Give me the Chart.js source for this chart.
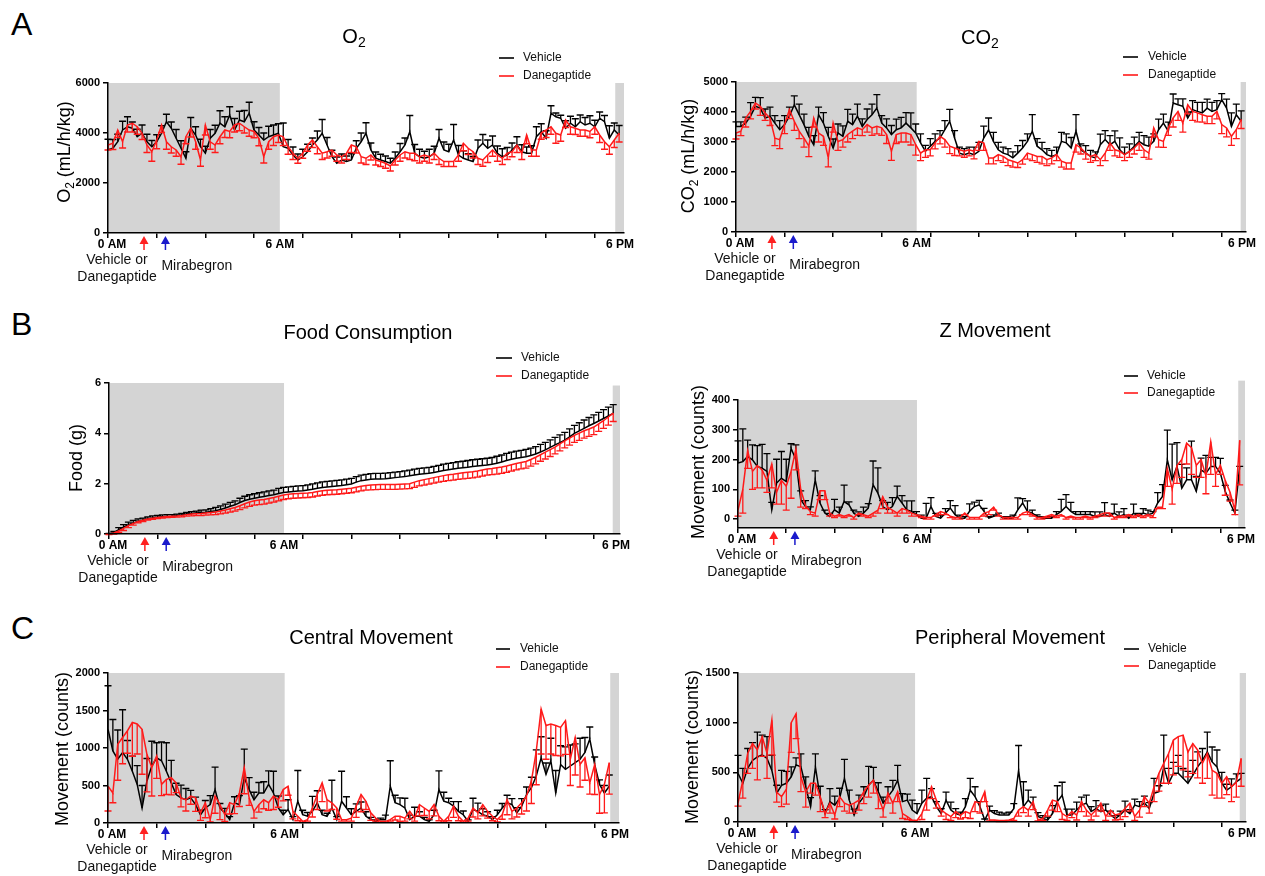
<!DOCTYPE html>
<html>
<head>
<meta charset="utf-8">
<script src="https://cdn.jsdelivr.net/npm/chart.js@4.4.1/dist/chart.umd.min.js"></script>
<style>
  html, body { margin: 0; padding: 0; background: #fff; overflow: hidden; }
  body { width: 1265px; height: 876px; position: relative; font-family: Arial, "Liberation Sans", sans-serif; }
  canvas { position: absolute; }
  .letter { position: absolute; font-size: 32px; line-height: 32px; color: #000; }
</style>
</head>
<body>
<div class="letter" style="left:11px;top:8px">A</div>
<div class="letter" style="left:11px;top:308px">B</div>
<div class="letter" style="left:11px;top:612px">C</div>

<canvas id="cO2"></canvas>
<canvas id="cCO2"></canvas>
<canvas id="cFood"></canvas>
<canvas id="cZ"></canvas>
<canvas id="cCentral"></canvas>
<canvas id="cPeriph"></canvas>

<script>
// ── Data (one point every ~10 min, index 0 = 0 AM) ─────────────────────
const xTicks     = [0, 10, 20, 30, 40, 50, 60, 70, 80, 90, 100];
const timeLabels = ['0 AM', '6 AM', '6 PM'];
const seriesNames = ['Vehicle', 'Danegaptide'];

const o2Vehicle = [
  3330,3390,3650,4120,4250,4190, 3850,3990,3650,3450,3650,3990, 4450,4190,3790,3390,2990,4190,
  3920,3450,3190,3790,3990,4390, 4250,4720,4120,4520,4450,4790, 4120,3920,3720,3850,3920,3990,
  3450,3390,3120,2920,3050,3250, 3520,3720,3990,3520,3050,2790, 2920,2860,2920,3390,3650,3990,
  3320,2990,2920,2860,2790,2990, 3250,3520,4050,3190,3050,2990, 3050,3190,3790,3320,3250,3720,
  3120,2990,2920,2860,3390,3590, 3390,3520,3190,3050,3120,3320, 3520,3250,3190,3190,3850,4050,
  3790,4790,4650,4590,4190,4390, 4250,4450,4320,4390,4250,4590, 4450,3790,4120,3920];
const o2VehicleSem = [
  420,350,300,350,400,250, 300,330,300,250,280,300, 300,250,350,300,260,430,
  330,300,280,350,320,500, 400,330,460,350,450,440, 330,300,280,420,400,380,
  950,350,320,240,300,300, 280,360,550,300,260,250, 240,220,250,300,350,420,
  280,250,230,220,200,250, 330,280,650,350,300,280, 300,280,350,320,300,620,
  380,300,250,200,330,350, 330,360,290,320,300,280, 330,280,250,300,400,320,
  300,300,150,120,300,280, 320,270,300,300,260,250, 250,500,280,380];
const o2Dane = [
  3520,3590,4120,3650,4320,4390, 4250,3990,3520,3250,3720,4320, 3650,3450,3320,3050,3850,4190,
  3650,2920,4320,3650,3520,3850, 4120,4060,4320,4390,4250,4120, 4060,3790,3050,3650,3850,3920,
  3850,3450,3190,2990,3190,3520, 3720,3450,3190,3250,3320,3120, 3050,3190,3520,3450,3050,2990,
  3120,2920,2860,2790,2680,2920, 3120,3250,3190,3190,3050,3120, 3050,3190,2990,2860,2860,2860,
  3120,3590,3390,3250,2990,2920, 3120,3320,3120,2990,3190,3250, 3520,3190,3920,3320,3320,4000,
  4120,4250,3990,3920,4520,4250, 4190,4120,4120,4060,4250,3920, 3650,3450,3720,3990];
const o2DaneSem = [
  200,250,300,250,280,350, 300,250,300,380,350,300, 300,250,250,300,280,350,
  300,250,400,300,300,280, 300,250,280,300,250,250, 250,300,250,300,350,300,
  350,300,250,200,200,250, 300,280,250,250,250,250, 250,250,300,250,250,250,
  200,200,200,200,200,200, 250,250,250,300,250,250, 250,250,250,200,200,200,
  250,300,250,250,250,250, 300,250,250,250,250,200, 300,250,350,250,250,250,
  300,300,400,250,300,300, 250,250,250,250,300,300, 300,300,300,350];

const co2Vehicle = [
  3520,3520,3630,3860,4190,4130, 3800,3860,3630,3410,3580,3860, 4240,3910,3580,3190,2910,3910,
  3630,3190,2800,3300,3190,3690, 3580,3860,3520,3750,3910,4130, 3630,3470,3250,3410,3470,3630,
  3470,3300,2970,2690,2860,3020, 3130,3410,3690,3130,2630,2580, 2630,2580,2690,3130,3400,3020,
  2740,2630,2580,2470,2630,2800, 3020,3360,2860,2740,2580,2520, 2580,3020,2970,2800,3360,2740,
  2630,2520,2470,2910,3080,2910, 3020,2740,2580,2690,2860,3020, 2910,2860,3020,3410,3630,3360,
  4300,4240,4190,3800,4080,4020, 3970,4130,4020,4080,4410,4130, 3520,3910,3690];
const co2VehicleSem = [
  150,150,200,450,300,350, 300,300,250,300,300,300, 300,350,350,300,300,250,
  350,300,300,300,350,400, 350,400,250,350,350,450, 250,300,300,350,350,350,
  500,300,300,200,250,250, 250,300,400,250,200,200, 200,250,300,400,400,300,
  250,200,200,200,250,250, 250,550,250,250,200,200, 250,300,300,350,550,200,
  250,200,200,350,300,300, 350,400,250,250,300,300, 300,300,250,350,300,300,
  300,200,250,200,300,300, 350,300,300,300,200,300, 450,350,350];
const co2Dane = [
  3300,3360,3800,4020,4300,4190, 3970,3800,3130,3080,3580,4080, 3690,3360,3130,2860,3800,3300,
  3190,2470,3630,3020,3080,3250, 3360,3470,3410,3580,3470,3520, 3470,3250,2690,3250,3300,3300,
  3250,2910,2630,2740,2740,2970, 3190,3080,2860,2800,2740,2690, 2740,2690,3020,2970,2470,2470,
  2580,2520,2410,2360,2300,2410, 2630,2580,2520,2520,2410,2470, 2580,2360,2300,2300,2910,2800,
  2630,2520,2580,2410,2630,2970, 2740,2690,2580,2690,2800,2970, 2740,2630,3470,3080,3020,3470,
  3800,4020,3630,4240,4020,3970, 3910,3860,3860,4020,3580,3470, 3190,3410,3750];
const co2DaneSem = [
  200,150,300,250,200,300, 250,250,250,300,300,300, 300,250,300,350,300,300,
  300,300,300,300,250,250, 250,250,200,250,250,250, 250,300,300,300,300,300,
  350,350,250,250,200,200, 250,250,250,250,200,200, 200,250,300,250,200,200,
  200,200,200,200,150,150, 200,200,200,250,200,200, 200,200,200,200,250,200,
  200,200,200,200,250,250, 200,200,200,200,200,250, 250,200,300,250,200,250,
  300,300,300,300,300,300, 250,250,250,250,300,300, 300,300,300];

const foodVehicle = [
  0.00,0.05,0.17,0.27,0.37,0.44, 0.50,0.55,0.60,0.64,0.67,0.69, 0.70,0.71,0.73,0.76,0.79,0.81,
  0.83,0.85,0.86,0.89,0.92,0.97, 1.03,1.10,1.16,1.25,1.33,1.38, 1.42,1.46,1.49,1.53,1.56,1.61,
  1.65,1.67,1.69,1.71,1.72,1.75, 1.78,1.82,1.85,1.87,1.89,1.91, 1.93,1.96,1.99,2.06,2.12,2.15,
  2.18,2.19,2.19,2.20,2.22,2.24, 2.26,2.28,2.31,2.34,2.37,2.39, 2.41,2.44,2.48,2.52,2.55,2.58,
  2.61,2.63,2.65,2.68,2.70,2.72, 2.74,2.77,2.81,2.86,2.92,2.97, 3.01,3.04,3.07,3.12,3.18,3.26,
  3.34,3.44,3.54,3.63,3.73,3.86, 4.00,4.10,4.20,4.30,4.39,4.49, 4.59,4.69,4.79];
const foodVehicleSem = [
  0.02,0.05,0.08,0.10,0.10,0.10, 0.10,0.08,0.08,0.08,0.07,0.07, 0.07,0.06,0.06,0.06,0.07,0.08,
  0.08,0.10,0.10,0.12,0.14,0.15, 0.16,0.16,0.16,0.17,0.17,0.18, 0.18,0.18,0.18,0.18,0.18,0.20,
  0.20,0.20,0.20,0.20,0.20,0.20, 0.21,0.21,0.22,0.22,0.22,0.22, 0.22,0.22,0.22,0.22,0.22,0.22,
  0.22,0.22,0.22,0.22,0.22,0.22, 0.22,0.23,0.23,0.24,0.24,0.24, 0.24,0.25,0.25,0.26,0.26,0.26,
  0.26,0.26,0.27,0.27,0.27,0.27, 0.27,0.27,0.28,0.28,0.28,0.28, 0.28,0.28,0.29,0.29,0.29,0.30,
  0.30,0.30,0.30,0.31,0.31,0.32, 0.32,0.32,0.33,0.33,0.34,0.34, 0.35,0.35,0.35];
const foodDane = [
  0.00,0.04,0.12,0.22,0.33,0.42, 0.50,0.55,0.60,0.63,0.66,0.68, 0.70,0.71,0.72,0.74,0.77,0.79,
  0.80,0.81,0.83,0.85,0.87,0.91, 0.95,1.00,1.05,1.12,1.20,1.27, 1.32,1.35,1.37,1.41,1.45,1.50,
  1.55,1.58,1.60,1.61,1.62,1.63, 1.65,1.69,1.72,1.74,1.75,1.76, 1.78,1.80,1.82,1.86,1.90,1.93,
  1.95,1.96,1.97,1.97,1.97,1.97, 1.98,1.99,2.00,2.06,2.12,2.16, 2.20,2.24,2.28,2.32,2.35,2.37,
  2.40,2.43,2.45,2.47,2.50,2.54, 2.58,2.60,2.63,2.66,2.70,2.75, 2.80,2.84,2.88,2.96,3.05,3.15,
  3.25,3.35,3.45,3.58,3.70,3.81, 3.92,4.01,4.10,4.17,4.25,4.38, 4.50,4.65,4.80];
const foodDaneSem = [
  0.02,0.04,0.06,0.08,0.08,0.07, 0.06,0.06,0.05,0.05,0.05,0.05, 0.05,0.05,0.05,0.06,0.06,0.07,
  0.07,0.08,0.08,0.09,0.10,0.11, 0.12,0.13,0.14,0.15,0.16,0.17, 0.17,0.18,0.18,0.18,0.18,0.18,
  0.18,0.18,0.18,0.18,0.18,0.18, 0.18,0.18,0.18,0.18,0.18,0.18, 0.18,0.18,0.18,0.19,0.19,0.19,
  0.20,0.20,0.20,0.20,0.20,0.20, 0.20,0.20,0.20,0.21,0.21,0.22, 0.22,0.22,0.22,0.23,0.23,0.23,
  0.23,0.24,0.24,0.24,0.24,0.24, 0.24,0.24,0.25,0.25,0.25,0.25, 0.25,0.25,0.26,0.26,0.26,0.26,
  0.27,0.27,0.27,0.28,0.28,0.28, 0.28,0.29,0.29,0.29,0.30,0.30, 0.30,0.32,0.33];

const zVehicle = [
  188,193,210,199,177,171, 160,31,121,137,126,238, 199,65,42,31,132,54,
  20,9,31,20,59,48, 20,9,20,37,115,87, 42,31,42,76,54,31,
  26,15,3,3,42,9, 3,20,37,15,3,3, 26,42,48,26,3,9,
  15,3,3,3,31,54, 26,20,9,3,3,3, 15,26,42,26,15,15,
  15,15,9,9,15,9, 20,9,15,3,20,9, 20,15,20,54,76,199,
  132,177,104,132,132,93, 165,154,177,177,154,93, 54,20,177];
const zVehicleSem = [
  75,110,55,50,70,80, 60,25,80,90,75,15, 50,30,20,10,30,25,
  10,10,35,20,55,10, 10,15,20,15,80,85, 20,25,30,35,25,30,
  35,10,10,50,30,10, 10,15,25,30,10,5, 25,15,15,10,5,5,
  5,5,5,10,40,15, 35,10,5,5,5,5, 10,40,40,30,10,10,
  10,10,15,15,40,10, 30,15,20,10,30,10, 15,15,5,35,40,100,
  120,80,80,40,130,50, 40,60,30,30,50,20, 10,10,0];
const zDane = [
  30,100,230,160,180,165, 130,185,90,130,110,160, 235,100,45,25,20,95,
  95,20,10,15,10,15, 5,20,15,10,20,30, 75,40,30,20,35,30,
  20,15,10,5,5,15, 25,20,10,5,5,20, 5,5,5,20,25,40,
  15,5,5,5,5,20, 25,15,5,5,10,15, 10,15,5,10,5,5,
  10,5,10,15,20,20, 5,10,10,15,10,15, 10,15,10,40,40,170,
  100,180,200,255,240,180, 200,145,260,150,180,130, 90,30,265];
const zDaneSem = [
  20,80,60,60,75,60, 40,80,40,80,80,90, 70,60,10,10,10,30,
  30,10,5,5,5,5, 5,5,5,5,10,10, 40,20,10,10,15,10,
  10,5,5,5,5,5, 10,5,5,5,5,5, 5,5,5,10,10,10,
  5,5,5,5,5,5, 10,5,5,5,5,5, 5,5,5,5,5,5,
  5,5,5,5,10,10, 5,5,5,5,5,5, 5,5,5,5,5,60,
  50,60,60,70,90,40, 60,60,110,40,30,50, 30,15,150];

const centralVehicle = [
  1250,960,850,940,850,690, 515,200,560,760,870,830, 690,535,380,335,310,335,
  245,110,200,245,445,200, 135,45,270,245,605,445, 310,400,400,515,400,200,
  110,180,45,290,110,90, 155,270,110,90,200,45, 290,200,110,155,200,90,
  45,22,45,45,490,270, 245,200,45,90,90,45, 22,110,445,290,270,225,
  155,110,22,180,155,110, 90,45,110,200,270,245, 135,225,380,470,625,870,
  650,830,400,780,715,760, 805,850,940,1120,780,515, 400,490];
const centralVehicleSem = [
  580,420,390,570,250,200, 250,300,300,330,200,250, 380,300,150,170,150,100,
  100,60,100,120,300,60, 60,40,80,120,380,160, 100,140,150,180,290,160,
  60,130,40,410,60,50, 200,160,60,40,370,40, 400,150,80,100,80,60,
  30,20,20,60,340,100, 90,130,60,120,60,30, 20,60,250,120,60,60,
  130,50,20,150,110,80, 60,40,60,60,100,80, 70,100,100,140,350,280,
  150,300,300,250,300,280, 250,280,200,160,100,60, 100,150];
const centralDane = [
  490,400,1050,1140,1230,1340, 1320,1250,915,740,895,515, 580,605,535,335,310,360,
  335,135,270,45,360,245, 110,270,245,400,740,335, 155,245,310,270,360,310,
  445,490,155,90,22,45, 200,380,535,310,270,200, 45,45,65,225,380,290,
  135,65,22,22,45,90, 90,65,155,65,245,200, 155,245,90,22,90,225,
  90,22,65,200,135,245, 155,90,45,110,310,155, 200,270,360,560,960,1520,
  1300,1320,1300,1275,1365,850, 1140,780,870,535,780,380, 515,805];
const centralDaneSem = [
  330,130,480,350,300,450, 400,600,500,380,300,150, 200,230,130,120,150,110,
  180,100,200,30,230,200, 90,150,120,180,350,100, 90,100,120,100,180,100,
  150,120,100,60,10,20, 120,200,250,150,90,150, 20,20,40,150,230,110,
  100,40,10,10,20,50, 70,40,100,40,150,100, 100,150,60,10,60,150,
  60,10,40,120,80,150, 90,60,30,60,200,100, 120,150,200,300,450,600,
  450,400,400,380,450,350, 500,300,300,150,400,250, 380,420];

const periphVehicle = [
  490,390,540,620,655,675, 640,520,290,370,390,455, 575,555,355,155,555,240,
  85,205,170,240,440,220, 70,190,255,370,420,305, 190,255,320,420,205,220,
  120,85,190,240,255,155, 85,220,120,85,70,155, 320,255,155,20,120,85,
  70,70,70,135,520,155, 220,170,55,35,20,85, 205,270,70,70,120,170,
  190,105,135,105,120,70, 35,70,120,85,170,155, 190,135,290,305,555,390,
  490,490,440,390,470,555, 620,705,605,555,390,320, 355,405,440];
const periphVehicleSem = [
  180,150,200,180,250,200, 220,150,80,150,120,100, 70,130,100,90,130,120,
  40,130,90,100,190,100, 60,80,100,190,130,90, 60,100,100,150,80,60,
  100,100,130,200,80,50, 50,80,80,50,30,80, 120,100,50,10,40,30,
  30,20,30,50,250,250, 100,80,40,30,30,80, 160,130,60,60,80,80,
  80,50,80,60,60,40, 30,40,90,40,60,50, 70,60,150,60,320,150,
  110,180,100,120,150,150, 120,200,150,170,110,60, 80,80,50];
const periphDane = [
  190,420,690,790,725,860, 690,1025,300,255,330,1000, 1090,455,300,390,390,255,
  85,190,70,255,190,170, 190,220,305,370,420,255, 120,290,190,305,85,55,
  20,15,85,220,355,220, 120,85,55,105,70,105, 85,205,190,305,20,20,
  15,15,20,35,120,155, 120,205,20,35,120,220, 205,85,55,105,70,205,
  120,70,120,190,55,120, 70,85,135,190,55,120, 255,190,355,490,590,690,
  825,860,875,705,790,725, 590,690,520,490,390,455, 355,400,640];
const periphDaneSem = [
  30,180,200,250,300,200, 250,350,100,100,150,300, 250,150,150,100,120,150,
  40,100,40,100,80,80, 100,100,120,120,130,120, 70,100,100,100,50,30,
  10,10,60,100,120,80, 60,60,40,60,40,60, 50,100,100,100,10,10,
  10,10,10,20,60,60, 60,80,10,20,60,100, 100,60,40,60,50,100,
  60,50,60,80,40,60, 50,60,80,80,40,70, 100,100,150,180,200,300,
  350,300,350,250,300,280, 200,250,250,250,150,180, 150,150,280];

// ── Panel layout ─────────────────────────────────────────────────────
const FONT = 'Arial, "Liberation Sans", Helvetica, sans-serif';
const BLACK = '#000000';
const RED = '#ff1a1a';
const SHADE = '#d4d4d4';
const RED_ARROW_AT = 7.4;
const BLUE_ARROW_AT = 11.8;

const panels = [
    { id: 'cO2', area: [108, 83, 624, 233], yMin: 0, yMax: 6000, yTicks: [0, 2000, 4000, 6000],
      xMax: 106, darkEnd: 35.3, lightStart: 104.2, shadeTop2: 6000,
      title: [['O'], ['2', 1]], titleAt: [354, 37],
      yTitle: [['O'], ['2', 1], [' (mL/h/kg)']], yTitleAt: [65, 152],
      legend: [499, 514, 523, 58, 76],
      veh: o2Vehicle, vehSem: o2VehicleSem, dan: o2Dane, danSem: o2DaneSem },
    { id: 'cCO2', area: [736, 82, 1246, 232], yMin: 0, yMax: 5000, yTicks: [0, 1000, 2000, 3000, 4000, 5000],
      xMax: 105, darkEnd: 37.2, lightStart: 103.9, shadeTop2: 5000,
      title: [['CO'], ['2', 1]], titleAt: [980, 38],
      yTitle: [['CO'], ['2', 1], [' (mL/h/kg)']], yTitleAt: [689, 156],
      legend: [1123, 1138, 1148, 57, 75],
      veh: co2Vehicle, vehSem: co2VehicleSem, dan: co2Dane, danSem: co2DaneSem },
    { id: 'cFood', area: [109, 383, 620, 534], yMin: 0, yMax: 6, yTicks: [0, 2, 4, 6],
      xMax: 105.4, darkEnd: 36.1, lightStart: 103.9, shadeTop2: 5.9,
      title: [['Food Consumption']], titleAt: [368, 333],
      yTitle: [['Food (g)']], yTitleAt: [77, 458],
      legend: [496, 512, 521, 358, 376],
      veh: foodVehicle, vehSem: foodVehicleSem, dan: foodDane, danSem: foodDaneSem },
    { id: 'cZ', area: [738, 400, 1245, 528], yMin: -30, yMax: 400, yTicks: [0, 100, 200, 300, 400],
      xMax: 105.1, darkEnd: 37.1, lightStart: 103.7, shadeTop2: 465,
      title: [['Z Movement']], titleAt: [995, 331],
      yTitle: [['Movement (counts)']], yTitleAt: [699, 462],
      legend: [1124, 1138, 1147, 376, 393],
      veh: zVehicle, vehSem: zVehicleSem, dan: zDane, danSem: zDaneSem },
    { id: 'cCentral', area: [108, 673, 619, 823], yMin: 0, yMax: 2000, yTicks: [0, 500, 1000, 1500, 2000],
      xMax: 105, darkEnd: 36.3, lightStart: 103.2, shadeTop2: 2000,
      title: [['Central Movement']], titleAt: [371, 638],
      yTitle: [['Movement (counts)']], yTitleAt: [63, 749],
      legend: [496, 510, 520, 649, 667],
      veh: centralVehicle, vehSem: centralVehicleSem, dan: centralDane, danSem: centralDaneSem },
    { id: 'cPeriph', area: [738, 673, 1246, 822], yMin: 0, yMax: 1500, yTicks: [0, 500, 1000, 1500],
      xMax: 105, darkEnd: 36.6, lightStart: 103.7, shadeTop2: 1500,
      title: [['Peripheral Movement']], titleAt: [1010, 638],
      yTitle: [['Movement (counts)']], yTitleAt: [693, 747],
      legend: [1124, 1139, 1148, 649, 666],
      veh: periphVehicle, vehSem: periphVehicleSem, dan: periphDane, danSem: periphDaneSem }
];
const panelById = {};
panels.forEach(p => panelById[p.id] = p);

const PAD_TOP = 80, PAD_RIGHT = 25, Y_W = 100, X_H = 60;

/* ── Helpers ──────────────────────────────────────────────────────── */

function richText(ctx, parts, x, y, size, weight) {
    const w8 = weight ? weight + ' ' : '';
    const base = w8 + size + 'px ' + FONT;
    const sub  = w8 + Math.round(size * 0.68) + 'px ' + FONT;
    let total = 0;
    parts.forEach(([t, s]) => { ctx.font = s ? sub : base; total += ctx.measureText(t).width; });
    let cx = x - total / 2;
    ctx.textAlign = 'left';
    ctx.textBaseline = 'middle';
    parts.forEach(([t, s]) => {
        ctx.font = s ? sub : base;
        ctx.fillText(t, cx, s ? y + size * 0.3 : y);
        cx += ctx.measureText(t).width;
    });
}

function drawArrow(ctx, x, y0, color) {
    ctx.fillStyle = color;
    ctx.strokeStyle = color;
    ctx.beginPath();
    ctx.moveTo(x, y0 + 3);
    ctx.lineTo(x - 4.5, y0 + 11);
    ctx.lineTo(x + 4.5, y0 + 11);
    ctx.closePath();
    ctx.fill();
    ctx.lineWidth = 1.5;
    ctx.beginPath();
    ctx.moveTo(x, y0 + 10);
    ctx.lineTo(x, y0 + 17);
    ctx.stroke();
}

const decor = {
    id: 'decor',
    beforeDraw(chart) {
        const p = panelById[chart.canvas.id];
        const { ctx, chartArea: a } = chart;
        const xs = chart.scales.x, ys = chart.scales.y;
        const x0 = xs.getPixelForValue(0);
        const x1 = xs.getPixelForValue(p.darkEnd);
        const x2 = xs.getPixelForValue(p.lightStart);
        const top1 = ys.getPixelForValue(p.yMax);
        const top2 = ys.getPixelForValue(p.shadeTop2);
        ctx.save();
        ctx.fillStyle = SHADE;
        ctx.fillRect(x0, top1, x1 - x0, a.bottom - top1);
        ctx.fillRect(x2, top2, a.right - x2, a.bottom - top2);
        ctx.restore();
    },
    afterDatasetDraw(chart, args) {
        const p = panelById[chart.canvas.id];
        const xs = chart.scales.x, ys = chart.scales.y;
        const isVeh = args.index === 0;
        const vals = isVeh ? p.veh : p.dan;
        const sem  = isVeh ? p.vehSem : p.danSem;
        const ctx = chart.ctx;
        ctx.save();
        ctx.strokeStyle = isVeh ? BLACK : RED;
        ctx.lineWidth = 1.3;
        ctx.beginPath();
        vals.forEach((v, i) => {
            const px = xs.getPixelForValue(i);
            const py = ys.getPixelForValue(v);
            const pe = ys.getPixelForValue(isVeh ? v + sem[i] : v - sem[i]);
            ctx.moveTo(px, py);
            ctx.lineTo(px, pe);
            ctx.moveTo(px - 3.5, pe);
            ctx.lineTo(px + 3.5, pe);
        });
        ctx.stroke();
        ctx.restore();
    },
    afterDraw(chart) {
        const p = panelById[chart.canvas.id];
        const { ctx, chartArea: a } = chart;
        const xs = chart.scales.x;
        const [ox, oy] = p.origin;
        ctx.save();
        ctx.fillStyle = '#000';

        // title
        richText(ctx, p.title, p.titleAt[0] - ox, p.titleAt[1] - oy, 20);

        // y axis title
        ctx.save();
        ctx.translate(p.yTitleAt[0] - ox, p.yTitleAt[1] - oy);
        ctx.rotate(-Math.PI / 2);
        richText(ctx, p.yTitle, 0, 0, 18);
        ctx.restore();

        // legend
        const [l1, l2, tx, ly1, ly2] = p.legend;
        [[BLACK, ly1], [RED, ly2]].forEach(([c, ly], k) => {
            ctx.strokeStyle = c;
            ctx.lineWidth = 1.6;
            ctx.beginPath();
            ctx.moveTo(l1 - ox, ly - oy);
            ctx.lineTo(l2 - ox, ly - oy);
            ctx.stroke();
            ctx.fillStyle = '#111';
            ctx.font = '12px ' + FONT;
            ctx.textAlign = 'left';
            ctx.textBaseline = 'middle';
            ctx.fillText(seriesNames[k], tx - ox, ly - oy);
        });

        // time labels under the x axis
        const yb = a.bottom;
        ctx.fillStyle = '#000';
        ctx.font = 'bold 12px ' + FONT;
        ctx.textAlign = 'center';
        ctx.textBaseline = 'middle';
        ctx.fillText(timeLabels[0], a.left + 4, yb + 12);
        ctx.fillText(timeLabels[1], xs.getPixelForValue(p.darkEnd), yb + 12);
        ctx.fillText(timeLabels[2], a.right - 4, yb + 12);

        // dosing arrows
        const rx = xs.getPixelForValue(RED_ARROW_AT);
        const bx = xs.getPixelForValue(BLUE_ARROW_AT);
        drawArrow(ctx, rx, yb, '#ff2020');
        drawArrow(ctx, bx, yb, '#1a1acc');

        ctx.fillStyle = '#111';
        ctx.font = '14px ' + FONT;
        ctx.textAlign = 'center';
        ctx.fillText('Vehicle or', a.left + 9, yb + 27);
        ctx.fillText('Danegaptide', a.left + 9, yb + 44);
        ctx.textAlign = 'left';
        ctx.fillText('Mirabegron', bx - 4, yb + 33);
        ctx.restore();
    }
};

/* ── Build charts ─────────────────────────────────────────────────── */

function axisStyle() {
    return {
        grid: { drawOnChartArea: false, drawTicks: true, tickLength: 5, color: BLACK, lineWidth: 1.5 },
        border: { display: true, color: BLACK, width: 1.5, z: 1 }
    };
}

function makeChart(p) {
    const [L, T, R, B] = p.area;
    const cv = document.getElementById(p.id);
    const w = (R - L) + Y_W + PAD_RIGHT;
    const h = (B - T) + PAD_TOP + X_H;
    const left = L - Y_W, top = T - PAD_TOP;
    cv.width = w; cv.height = h;
    cv.style.left = left + 'px';
    cv.style.top = top + 'px';
    cv.style.width = w + 'px';
    cv.style.height = h + 'px';
    p.origin = [left, top];

    const toPts = arr => arr.map((v, i) => ({ x: i, y: v }));

    new Chart(cv, {
        type: 'line',
        data: {
            datasets: [
                { label: seriesNames[0], data: toPts(p.veh), borderColor: BLACK, borderWidth: 1.5,
                  pointRadius: 0, tension: 0, fill: false, order: 2 },
                { label: seriesNames[1], data: toPts(p.dan), borderColor: RED, borderWidth: 1.5,
                  pointRadius: 0, tension: 0, fill: false, order: 1 }
            ]
        },
        options: {
            responsive: false,
            animation: false,
            devicePixelRatio: 1,
            layout: { padding: { top: PAD_TOP, right: PAD_RIGHT, left: 0, bottom: 0 } },
            plugins: { legend: { display: false }, tooltip: { enabled: false }, title: { display: false } },
            scales: {
                x: Object.assign({
                    type: 'linear', min: 0, max: p.xMax,
                    afterBuildTicks: s => { s.ticks = xTicks.map(v => ({ value: v })); },
                    afterFit: s => { s.height = X_H; },
                    ticks: { callback: () => '', autoSkip: false }
                }, axisStyle()),
                y: Object.assign({
                    type: 'linear', min: p.yMin, max: p.yMax,
                    afterBuildTicks: s => { s.ticks = p.yTicks.map(v => ({ value: v })); },
                    afterFit: s => { s.width = Y_W; },
                    ticks: { color: BLACK, padding: 3, callback: v => String(v),
                             font: { family: FONT, size: 11, weight: 'bold' } }
                }, axisStyle())
            }
        },
        plugins: [decor]
    });
}

panels.forEach(makeChart);
</script>
</body>
</html>
